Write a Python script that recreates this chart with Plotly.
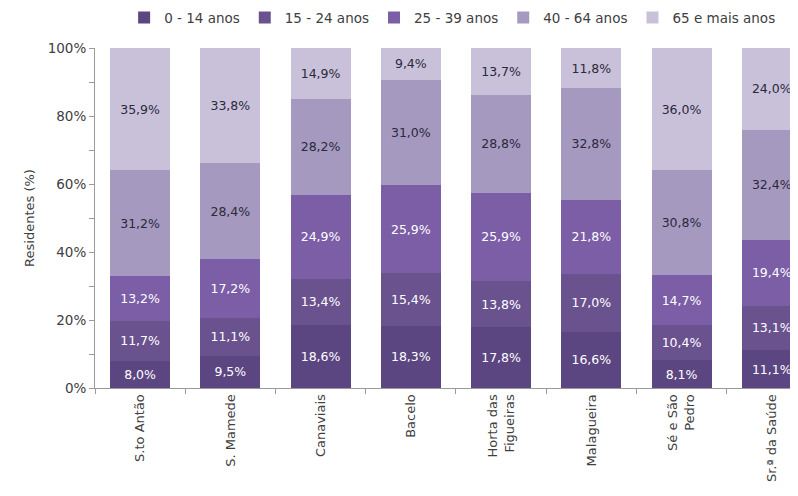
import plotly.graph_objects as go

categories = ["S.to Antão", "S. Mamede", "Canaviais", "Bacelo", "Horta das<br>Figueiras",
              "Malagueira", "Sé e São<br>Pedro", "Sr.ª da Saúde"]
series_names = ["0 - 14 anos", "15 - 24 anos", "25 - 39 anos", "40 - 64 anos", "65 e mais anos"]
age_0_14 = [8.0, 9.5, 18.6, 18.3, 17.8, 16.6, 8.1, 11.1]
age_15_24 = [11.7, 11.1, 13.4, 15.4, 13.8, 17.0, 10.4, 13.1]
age_25_39 = [13.2, 17.2, 24.9, 25.9, 25.9, 21.8, 14.7, 19.4]
age_40_64 = [31.2, 28.4, 28.2, 31.0, 28.8, 32.8, 30.8, 32.4]
age_65_plus = [35.9, 33.8, 14.9, 9.4, 13.7, 11.8, 36.0, 24.0]
y_ticks = [0, 20, 40, 60, 80, 100]

series = [age_0_14, age_15_24, age_25_39, age_40_64, age_65_plus]
colors = ["#5b4682", "#6a528f", "#7b5ea6", "#a699c0", "#c9c1da"]
text_colors = ["white", "white", "white", "#2a2a3a", "#2a2a3a"]

FONT = "DejaVu Sans"
GREY_TXT = "#404040"

fig = go.Figure()
for name, vals, col, tc in zip(series_names, series, colors, text_colors):
    fig.add_trace(go.Bar(
        x=categories, y=vals, name=name,
        marker=dict(color=col, line=dict(width=0)),
        text=[f"{v:.1f}".replace(".", ",") + "%" for v in vals],
        textposition="inside", insidetextanchor="middle",
        textfont=dict(color=tc, size=12.5, family=FONT),
        constraintext="none",
        hoverinfo="skip",
    ))

fig.update_layout(
    barmode="stack",
    bargap=0.335,
    width=790, height=488,
    margin=dict(l=87, r=0, t=40, b=108, autoexpand=False),
    paper_bgcolor="white", plot_bgcolor="white",
    font=dict(family=FONT, color=GREY_TXT, size=13),
    showlegend=True,
    legend=dict(orientation="h", xref="container", yref="container",
                x=0.147, xanchor="left", y=0.98, yanchor="middle",
                font=dict(size=13.5, family=FONT, color=GREY_TXT),
                traceorder="normal", itemwidth=30,
                bgcolor="rgba(0,0,0,0)"),
)
fig.update_xaxes(
    range=[-0.5, 7.29],
    showline=True, linecolor="#9a9a9a", linewidth=1,
    ticks="outside", tickson="boundaries", ticklen=5, tickcolor="#9a9a9a",
    tickangle=-90, tickfont=dict(size=13, family=FONT, color=GREY_TXT),
    showgrid=False, fixedrange=True, automargin=False,
)
fig.update_yaxes(
    range=[0, 100],
    tickvals=y_ticks, ticktext=[f"{t}%" for t in y_ticks],
    showline=True, linecolor="#9a9a9a", linewidth=1,
    ticks="outside", ticklen=5, tickcolor="#9a9a9a",
    minor=dict(dtick=10, ticks="outside", ticklen=5, tickcolor="#9a9a9a", showgrid=False),
    showgrid=False, zeroline=False, automargin=False,
    tickfont=dict(size=13.5, family=FONT, color=GREY_TXT),
    title=dict(text="Residentes (%)", font=dict(size=13, family=FONT, color=GREY_TXT), standoff=10),
)

fig.write_html("out.html")
